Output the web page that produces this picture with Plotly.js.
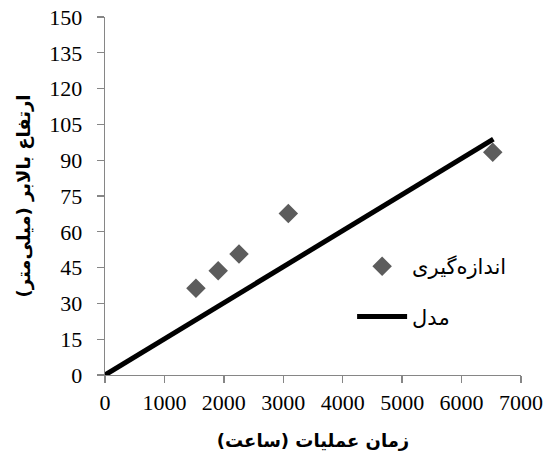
<!DOCTYPE html>
<html>
<head>
<meta charset="utf-8">
<script src="https://cdn.plot.ly/plotly-3.0.1.min.js"></script>
<style>html,body{margin:0;padding:0;background:#fff;}#chart{width:553px;height:459px;}</style>
</head>
<body>
<div id="chart"></div>
<script>
var measuredX = [1530, 1905, 2255, 3085, 6525];
var measuredY = [36.3, 43.7, 50.7, 67.7, 93.3];
var modelX = [0, 6535];
var modelY = [0, 98.8];
var xTicks = [0, 1000, 2000, 3000, 4000, 5000, 6000, 7000];
var yTicks = [0, 15, 30, 45, 60, 75, 90, 105, 120, 135, 150];
var nameMeasured = 'اندازه‌گیری';
var nameModel = 'مدل';
var xTitle = 'زمان عملیات (ساعت)';
var yTitle = 'ارتفاع بالابر (میلی‌متر)';

var serif = 'Liberation Serif';
var traces = [
  {x: measuredX, y: measuredY, mode: 'markers', type: 'scatter', name: nameMeasured,
   legendgroup: 'a',
   marker: {symbol: 'diamond', size: 15, color: '#5c5c5c'}},
  {x: modelX, y: modelY, mode: 'lines', type: 'scatter', name: nameModel,
   legendgroup: 'b',
   line: {color: '#000000', width: 5}}
];
function axis(extra) {
  var a = {
    showgrid: false, zeroline: false, showline: true, linecolor: '#868686', linewidth: 1.3,
    ticks: 'outside', ticklen: 7, tickcolor: '#868686', tickwidth: 1.3,
    tickfont: {family: serif, size: 22, color: '#000'}
  };
  for (var k in extra) a[k] = extra[k];
  return a;
}
var layout = {
  width: 553, height: 459,
  margin: {l: 105, r: 32, t: 17, b: 84},
  paper_bgcolor: '#fff', plot_bgcolor: '#fff',
  showlegend: true,
  legend: {x: 0.594, y: 0.36, xanchor: 'left', yanchor: 'top', traceorder: 'grouped', tracegroupgap: 20,
           itemwidth: 50,
           font: {family: 'DejaVu Sans', size: 21, color: '#000'}, bgcolor: 'rgba(0,0,0,0)'},
  xaxis: axis({range: [0, 7000], tickvals: xTicks, ticktext: xTicks.map(String),
    title: {text: xTitle, font: {family: 'DejaVu Sans', size: 18, color: '#000', weight: 'bold'}, standoff: 20}}),
  yaxis: axis({range: [0, 150], tickvals: yTicks, ticktext: yTicks.map(String), ticklabelstandoff: 10,
    title: {text: yTitle, font: {family: 'DejaVu Sans', size: 18, color: '#000', weight: 'bold'}, standoff: 14}})
};
Plotly.newPlot('chart', traces, layout, {displayModeBar: false, staticPlot: true});
</script>
</body>
</html>
